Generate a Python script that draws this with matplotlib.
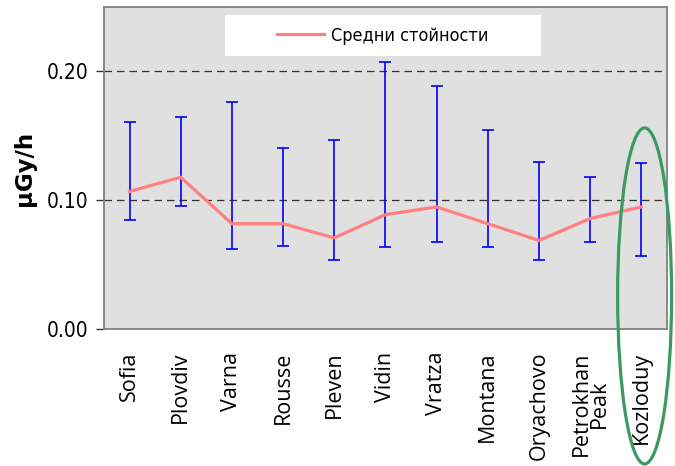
import matplotlib
matplotlib.use("Agg")
import matplotlib.pyplot as plt
from matplotlib.patches import Ellipse, Rectangle
import numpy as np

stations = ["Sofia", "Plovdiv", "Varna", "Rousse", "Pleven", "Vidin",
            "Vratza", "Montana", "Oryachovo", "Petrokhan\nPeak", "Kozloduy"]
mean_vals = [0.107, 0.118, 0.082, 0.082, 0.071, 0.089, 0.095, 0.082, 0.069, 0.086, 0.095]
max_vals = [0.161, 0.165, 0.176, 0.141, 0.147, 0.207, 0.189, 0.155, 0.130, 0.118, 0.129]
min_vals = [0.085, 0.096, 0.062, 0.065, 0.054, 0.064, 0.068, 0.064, 0.054, 0.068, 0.057]
y_ticks = [0.00, 0.10, 0.20]
legend_label = "Средни стойности"
y_label = "µGy/h"

plt.rcParams["font.family"] = ["Open Sans", "DejaVu Sans"]

fig = plt.figure(figsize=(6.75, 4.66), dpi=100)
ax = fig.add_axes([0.154, 0.293, 0.834, 0.692])
ax.set_facecolor("#E0E0E0")

x = np.arange(len(stations)) + 0.5
mean = np.array(mean_vals)
lo = mean - np.array(min_vals)
hi = np.array(max_vals) - mean

ax.errorbar(x, mean, yerr=[lo, hi], fmt="none", ecolor="#0000FF",
            elinewidth=1.2, capsize=4.5, capthick=1.2, zorder=3)
line, = ax.plot(x, mean, color="#FF8080", lw=2.3, zorder=4, label=legend_label)

ax.set_xlim(0, len(stations))
ax.set_ylim(0, 0.25)
ax.set_yticks(y_ticks)
ax.set_yticklabels([f"{v:.2f}" for v in y_ticks], fontsize=15,
                   family="DejaVu Sans", stretch="condensed")
for yv in y_ticks[1:]:
    ax.axhline(yv, color="#333333", lw=0.9, ls=(0, (6, 4)), zorder=1)

ax.set_xticks(x)
ax.set_xticklabels(stations, rotation=90, fontsize=15.5, linespacing=0.8)
ax.tick_params(axis="x", length=0, pad=16)
ax.tick_params(axis="y", length=6, width=1, color="#333333", pad=5)

for s in ax.spines.values():
    s.set_color("#808080")
    s.set_linewidth(1.3)

ax.set_ylabel(y_label, fontsize=16.5, fontweight="bold", family="DejaVu Sans", labelpad=8)

# white panel behind the legend
ax.add_patch(Rectangle((0.215, 0.848), 0.561, 0.127, transform=ax.transAxes,
                       facecolor="white", edgecolor="none", zorder=5))
leg = ax.legend(handles=[line], loc="center", bbox_to_anchor=(0.4955, 0.911),
                frameon=False,
                prop={"size": 13, "family": "DejaVu Sans", "stretch": "condensed"},
                handlelength=2.6, handletextpad=0.4)
leg.set_zorder(6)

# highlight around the last station
fig.patches.append(Ellipse((0.955, 0.365), 0.08, 0.721, transform=fig.transFigure,
                           fill=False, edgecolor="#3A9A62", lw=2.3, zorder=10))

fig.savefig("out.png", dpi=100)
